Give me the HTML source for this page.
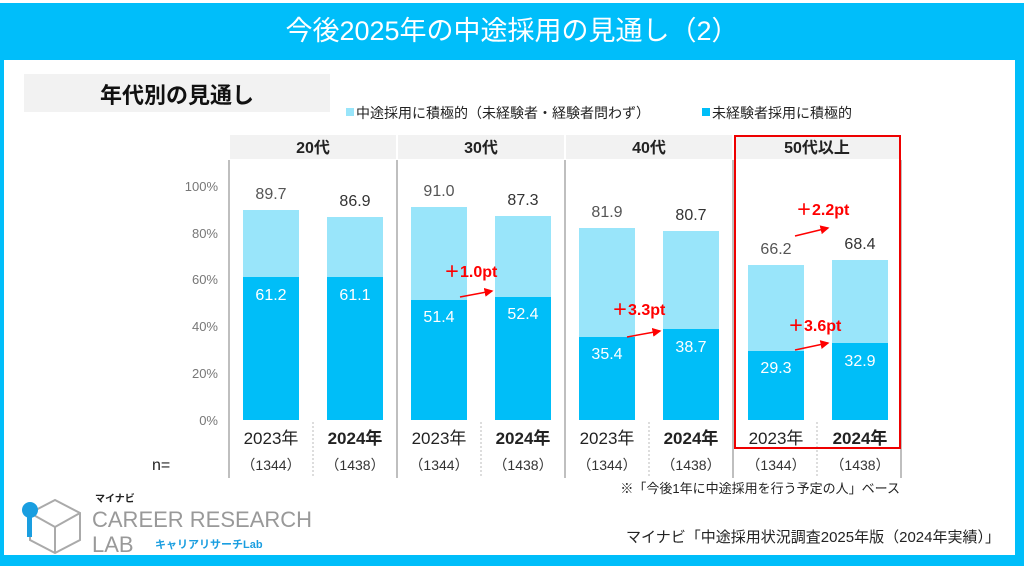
<!DOCTYPE html>
<html><head><meta charset="utf-8"><style>
body{margin:0;width:1024px;height:566px;overflow:hidden;background:#fff}
svg text{font-family:"Liberation Sans","Noto Sans CJK JP",sans-serif}
</style></head><body>
<svg width="1024" height="566" viewBox="0 0 1024 566">
<rect x="0" y="0" width="1024" height="566" fill="#00BEFA"/>
<rect x="0" y="0" width="1024" height="3" fill="#fff"/>
<rect x="4" y="60" width="1011" height="495" fill="#fff"/>
<text x="512" y="40" font-size="27" fill="#fff" text-anchor="middle">今後2025年の中途採用の見通し（2）</text>
<rect x="24" y="74" width="306" height="38" fill="#f2f2f2"/>
<text x="177" y="103" font-size="22" font-weight="bold" text-anchor="middle" fill="#111">年代別の見通し</text>
<rect x="346" y="108" width="8" height="8" fill="#99E5FA"/>
<text x="356" y="118" font-size="14" fill="#222">中途採用に積極的（未経験者・経験者問わず）</text>
<rect x="702" y="108" width="8" height="8" fill="#00BEF8"/>
<text x="712" y="118" font-size="14" fill="#222">未経験者採用に積極的</text>
<g fill="#f2f2f2">
<rect x="230" y="135" width="166" height="24"/><rect x="398" y="135" width="166" height="24"/>
<rect x="566" y="135" width="166" height="24"/><rect x="734" y="135" width="166" height="24"/>
</g>
<g font-size="16" font-weight="bold" text-anchor="middle" fill="#222">
<text x="313" y="153">20代</text><text x="481" y="153">30代</text><text x="649" y="153">40代</text><text x="817" y="153">50代以上</text>
</g>
<g stroke="#aaa" stroke-width="1.5">
<line x1="229" y1="160" x2="229" y2="478"/><line x1="397" y1="160" x2="397" y2="478"/>
<line x1="565" y1="160" x2="565" y2="478"/><line x1="733" y1="160" x2="733" y2="478"/><line x1="901" y1="160" x2="901" y2="478"/>
</g>
<g stroke="#bbb" stroke-dasharray="2,2">
<line x1="313" y1="422" x2="313" y2="478"/><line x1="481" y1="422" x2="481" y2="478"/><line x1="649" y1="422" x2="649" y2="478"/><line x1="817" y1="422" x2="817" y2="478"/>
</g>
<g font-size="13" fill="#777" text-anchor="end">
<text x="218" y="191">100%</text><text x="218" y="238">80%</text><text x="218" y="284">60%</text><text x="218" y="331">40%</text><text x="218" y="378">20%</text><text x="218" y="425">0%</text>
</g>
<g fill="#99E5FA">
<rect x="243" y="210" width="56" height="210"/><rect x="327" y="217" width="56" height="203"/>
<rect x="411" y="207" width="56" height="213"/><rect x="495" y="216" width="56" height="204"/>
<rect x="579" y="228" width="56" height="192"/><rect x="663" y="231" width="56" height="189"/>
<rect x="748" y="265" width="56" height="155"/><rect x="832" y="260" width="56" height="160"/>
</g>
<g fill="#00BEF8">
<rect x="243" y="277" width="56" height="143"/><rect x="327" y="277" width="56" height="143"/>
<rect x="411" y="300" width="56" height="120"/><rect x="495" y="297" width="56" height="123"/>
<rect x="579" y="337" width="56" height="83"/><rect x="663" y="329" width="56" height="91"/>
<rect x="748" y="351" width="56" height="69"/><rect x="832" y="343" width="56" height="77"/>
</g>
<g font-size="16" text-anchor="middle" fill="#555">
<text x="271" y="199">89.7</text><text x="355" y="206" fill="#333">86.9</text>
<text x="439" y="196">91.0</text><text x="523" y="205" fill="#333">87.3</text>
<text x="607" y="217">81.9</text><text x="691" y="220" fill="#333">80.7</text>
<text x="776" y="254">66.2</text><text x="860" y="249" fill="#333">68.4</text>
</g>
<g font-size="16" text-anchor="middle" fill="#fff">
<text x="271" y="300">61.2</text><text x="355" y="300">61.1</text>
<text x="439" y="322">51.4</text><text x="523" y="319">52.4</text>
<text x="607" y="359">35.4</text><text x="691" y="352">38.7</text>
<text x="776" y="373">29.3</text><text x="860" y="366">32.9</text>
</g>
<g font-size="16" font-weight="bold" fill="#f00">
<text x="444" y="277">＋1.0pt</text><text x="612" y="315">＋3.3pt</text>
<text x="796" y="215">＋2.2pt</text><text x="788" y="331">＋3.6pt</text>
</g>
<defs><marker id="a" markerWidth="6" markerHeight="6" refX="5" refY="3" orient="auto"><path d="M0,0L6,3L0,6z" fill="#f00"/></marker></defs>
<g stroke="#f00" stroke-width="1.5" marker-end="url(#a)">
<line x1="460" y1="297" x2="492" y2="291"/><line x1="627" y1="337" x2="660" y2="331"/>
<line x1="795" y1="236" x2="828" y2="228"/><line x1="795" y1="350" x2="828" y2="343"/>
</g>
<rect x="735" y="136" width="165" height="312" fill="none" stroke="#e00" stroke-width="2"/>
<g font-size="17" text-anchor="middle" fill="#222">
<text x="271" y="444">2023年</text><text x="355" y="444" font-weight="bold">2024年</text>
<text x="439" y="444">2023年</text><text x="523" y="444" font-weight="bold">2024年</text>
<text x="607" y="444">2023年</text><text x="691" y="444" font-weight="bold">2024年</text>
<text x="776" y="444">2023年</text><text x="860" y="444" font-weight="bold">2024年</text>
</g>
<text x="152" y="470" font-size="16" fill="#222">n=</text>
<g font-size="14" text-anchor="middle" fill="#333">
<text x="271" y="470">（1344）</text><text x="355" y="470">（1438）</text>
<text x="439" y="470">（1344）</text><text x="523" y="470">（1438）</text>
<text x="607" y="470">（1344）</text><text x="691" y="470">（1438）</text>
<text x="776" y="470">（1344）</text><text x="860" y="470">（1438）</text>
</g>
<text x="900" y="493" font-size="13" text-anchor="end" fill="#222">※「今後1年に中途採用を行う予定の人」ベース</text>
<text x="1000" y="542" font-size="15" text-anchor="end" fill="#222">マイナビ「中途採用状況調査2025年版（2024年実績）」</text>
<g stroke="#aaa" stroke-width="2" fill="none">
<path d="M30,513 L55,500 L80,513 L80,540 L55,553 L30,540 Z"/><path d="M30,513 L55,527 L80,513 M55,527 L55,553"/>
</g>
<circle cx="30" cy="510" r="8" fill="#1a9ee0"/>
<rect x="27" y="515" width="5" height="22" fill="#1a9ee0"/>
<text x="95" y="502" font-size="10" font-weight="bold" fill="#222">マイナビ</text>
<text x="92" y="527" font-size="22" fill="#999">CAREER RESEARCH</text>
<text x="92" y="552" font-size="22" fill="#999">LAB</text>
<text x="155" y="548" font-size="11" font-weight="bold" fill="#1a9ee0">キャリアリサーチLab</text>
</svg>
</body></html>
